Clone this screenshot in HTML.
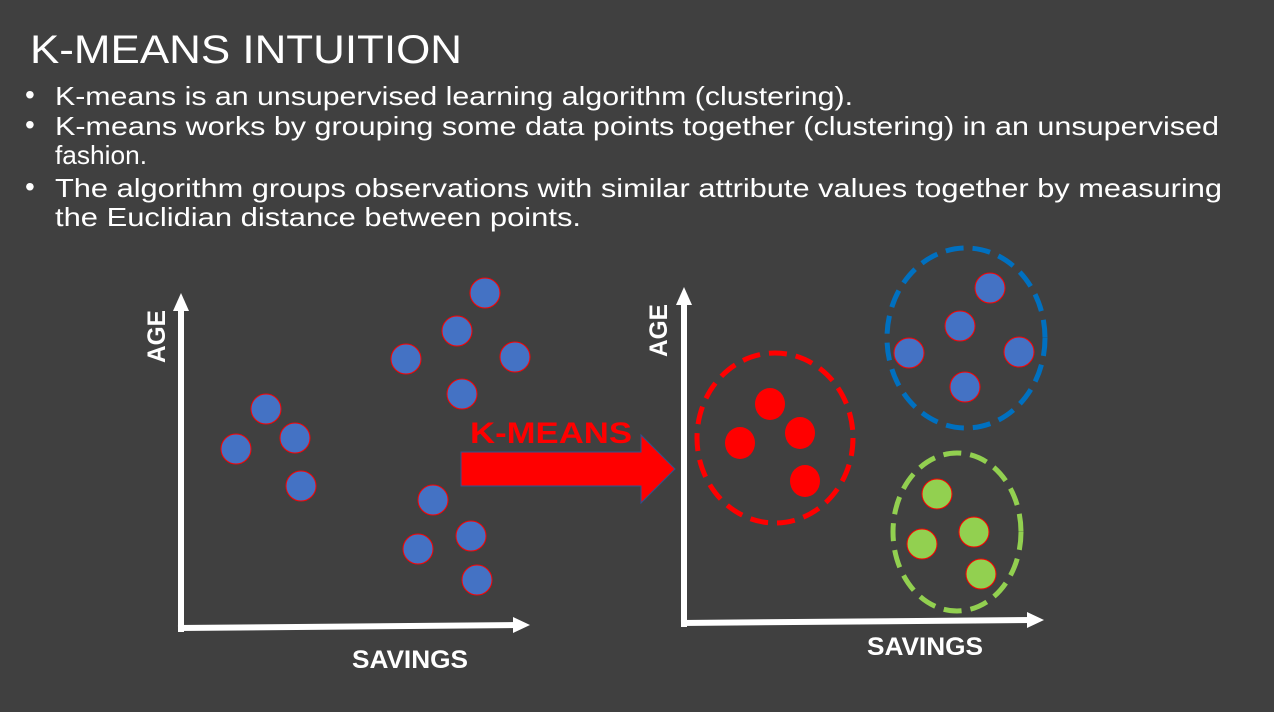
<!DOCTYPE html>
<html><head><meta charset="utf-8"><style>
html,body{margin:0;padding:0;background:#404040;}
svg{display:block;}
</style></head><body>
<svg width="1274" height="712" viewBox="0 0 1274 712" xmlns="http://www.w3.org/2000/svg">
<rect width="1274" height="712" fill="#404040"/>
<g font-family="Liberation Sans, sans-serif" fill="#fff">
<text x="30" y="63" font-size="40" textLength="432" lengthAdjust="spacingAndGlyphs" style="font-weight:300">K-MEANS INTUITION</text>
<g font-size="28">
<text x="25" y="104">•</text>
<text x="25" y="134">•</text>
<text x="25" y="196">•</text>
</g>
<g font-size="26">
<text x="55" y="105" textLength="798" lengthAdjust="spacingAndGlyphs">K-means is an unsupervised learning algorithm (clustering).</text>
<text x="55" y="135" textLength="1164" lengthAdjust="spacingAndGlyphs">K-means works by grouping some data points together (clustering) in an unsupervised</text>
<text x="55" y="164" textLength="92" lengthAdjust="spacingAndGlyphs">fashion.</text>
<text x="55" y="197" textLength="1167" lengthAdjust="spacingAndGlyphs">The algorithm groups observations with similar attribute values together by measuring</text>
<text x="55" y="226" textLength="526" lengthAdjust="spacingAndGlyphs">the Euclidian distance between points.</text>
</g>
<g font-size="25" font-weight="bold">
<text x="352" y="668" textLength="116" lengthAdjust="spacingAndGlyphs">SAVINGS</text>
<text x="867" y="655" textLength="116" lengthAdjust="spacingAndGlyphs">SAVINGS</text>
<text transform="translate(165,363) rotate(-90)" textLength="53" lengthAdjust="spacingAndGlyphs">AGE</text>
<text transform="translate(667,357) rotate(-90)" textLength="53" lengthAdjust="spacingAndGlyphs">AGE</text>
</g>
<text x="470" y="443" font-size="30" font-weight="bold" fill="#ff0000" textLength="162" lengthAdjust="spacingAndGlyphs">K-MEANS</text>
</g>
<g stroke="#fff" stroke-width="6" fill="none">
<line x1="181" y1="305" x2="181" y2="632"/>
<line x1="178" y1="628" x2="518" y2="625"/>
<line x1="684" y1="303" x2="684" y2="627"/>
<line x1="681" y1="623" x2="1032" y2="620"/>
</g>
<g fill="#fff">
<polygon points="181,293 173,311 189,311"/>
<polygon points="530,625 513,617 513,633"/>
<polygon points="684,287 676,305 692,305"/>
<polygon points="1044,620 1027,612 1027,628"/>
</g>
<g fill="#4472c4" stroke="#ff0000" stroke-width="1">
<circle cx="266" cy="409" r="15"/>
<circle cx="236" cy="449" r="15"/>
<circle cx="295" cy="438" r="15"/>
<circle cx="301" cy="486" r="15"/>
<circle cx="406" cy="359" r="15"/>
<circle cx="457" cy="331" r="15"/>
<circle cx="485" cy="293" r="15"/>
<circle cx="515" cy="357" r="15"/>
<circle cx="462" cy="394" r="15"/>
<circle cx="433" cy="500" r="15"/>
<circle cx="418" cy="549" r="15"/>
<circle cx="471" cy="536" r="15"/>
<circle cx="477" cy="580" r="15"/>
</g>
<polygon points="461,452 641,452 641,435 675,469 641,503 641,486 461,486" fill="#ff0000" stroke="#2f528f" stroke-width="1"/>
<g fill="none" stroke-width="5" stroke-dasharray="18,9">
<ellipse cx="775" cy="438" rx="78" ry="85" stroke="#ff0000"/>
<ellipse cx="966" cy="338" rx="79" ry="90" stroke="#0070c0"/>
<ellipse cx="957" cy="532" rx="64" ry="79" stroke="#92d050"/>
</g>
<g fill="#ff0000">
<ellipse cx="770" cy="404" rx="15" ry="16"/>
<ellipse cx="740" cy="443" rx="15" ry="16"/>
<ellipse cx="800" cy="433" rx="15" ry="16"/>
<ellipse cx="805" cy="481" rx="15" ry="16"/>
</g>
<g fill="#4472c4" stroke="#ff0000" stroke-width="1">
<circle cx="990" cy="288" r="15"/>
<circle cx="960" cy="326" r="15"/>
<circle cx="909" cy="353" r="15"/>
<circle cx="1019" cy="352" r="15"/>
<circle cx="965" cy="387" r="15"/>
</g>
<g fill="#92d050" stroke="#ff0000" stroke-width="1">
<circle cx="937" cy="494" r="15"/>
<circle cx="922" cy="544" r="15"/>
<circle cx="974" cy="532" r="15"/>
<circle cx="981" cy="574" r="15"/>
</g>
</svg>
</body></html>
